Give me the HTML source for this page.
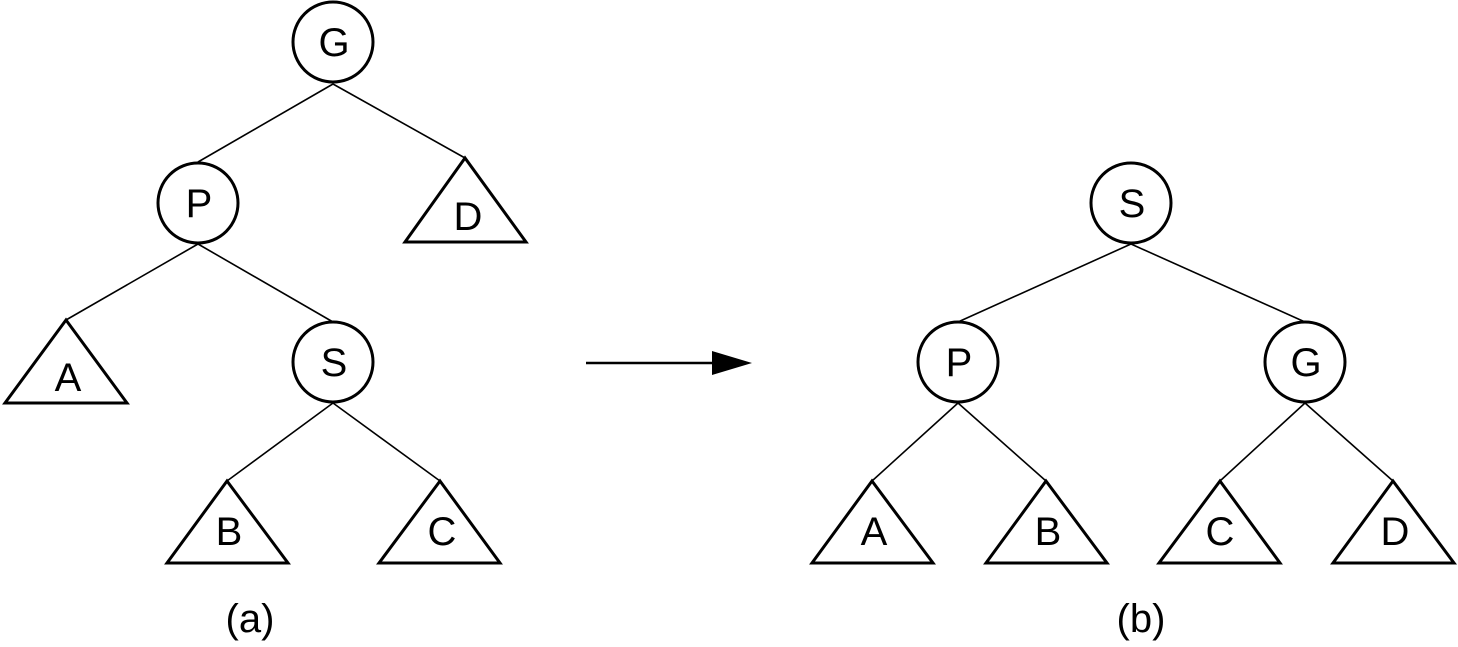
<!DOCTYPE html>
<html><head><style>html,body{margin:0;padding:0;background:#fff}svg{display:block}</style></head>
<body>
<svg width="1458" height="647" viewBox="0 0 1458 647" xmlns="http://www.w3.org/2000/svg" font-family="Liberation Sans, sans-serif" font-size="40">
<g stroke="#000" stroke-width="1.6" fill="none">
<line x1="333" y1="84" x2="198" y2="162"/>
<line x1="333" y1="84" x2="465" y2="158"/>
<line x1="198" y1="244" x2="66" y2="320"/>
<line x1="198" y1="244" x2="333" y2="322"/>
<line x1="333" y1="403" x2="227" y2="481"/>
<line x1="333" y1="403" x2="440" y2="481"/>
<line x1="1131" y1="244" x2="958" y2="322"/>
<line x1="1131" y1="244" x2="1305" y2="322"/>
<line x1="958" y1="403" x2="872" y2="481"/>
<line x1="958" y1="403" x2="1046" y2="481"/>
<line x1="1305" y1="403" x2="1220" y2="481"/>
<line x1="1305" y1="403" x2="1393" y2="481"/>
<line x1="586" y1="363" x2="715" y2="363" stroke-width="2.5"/>
</g>
<polygon points="752,363 712,351 712,375" fill="#000"/>
<g stroke="#000" stroke-width="3" fill="#fff">
<circle cx="333" cy="42" r="40"/>
<circle cx="198" cy="203" r="40"/>
<circle cx="333" cy="362" r="40"/>
<circle cx="1131" cy="203" r="40"/>
<circle cx="958" cy="362" r="40"/>
<circle cx="1305" cy="362" r="40"/>
<polygon points="465,158 405,242 526,242"/>
<polygon points="66,320 5,403 127,403"/>
<polygon points="227,481 167,563 288,563"/>
<polygon points="440,481 379,563 500,563"/>
<polygon points="872,481 812,563 933,563"/>
<polygon points="1046,481 986,563 1107,563"/>
<polygon points="1220,481 1159,563 1280,563"/>
<polygon points="1393,481 1333,563 1454,563"/>
</g>
<g fill="#000" text-anchor="middle">
<text x="334" y="56">G</text>
<text x="199" y="217">P</text>
<text x="334" y="376">S</text>
<text x="1132" y="217">S</text>
<text x="959" y="376">P</text>
<text x="1306" y="376">G</text>
<text x="468" y="230">D</text>
<text x="68" y="391">A</text>
<text x="229" y="545">B</text>
<text x="442" y="545">C</text>
<text x="874" y="545">A</text>
<text x="1048" y="545">B</text>
<text x="1220" y="545">C</text>
<text x="1395" y="545">D</text>
<text x="250" y="632">(a)</text>
<text x="1141" y="632">(b)</text>
</g>
</svg>
</body></html>
